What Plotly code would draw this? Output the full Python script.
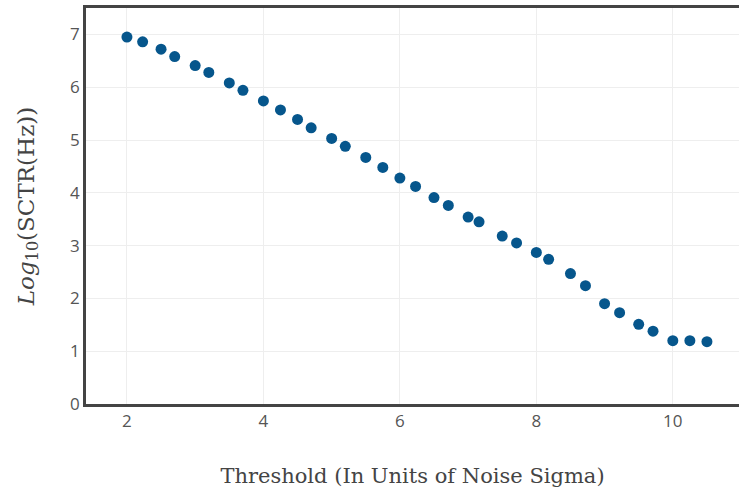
import plotly.graph_objects as go

threshold = [2.0, 2.23, 2.5, 2.7, 3.0, 3.2, 3.5, 3.7, 4.0, 4.25, 4.5, 4.7, 5.0, 5.2, 5.5,
             5.75, 6.0, 6.23, 6.5, 6.71, 7.0, 7.16, 7.5, 7.71, 8.0, 8.18, 8.5, 8.72,
             9.0, 9.22, 9.5, 9.71, 10.0, 10.25, 10.5]
log_sctr = [6.95, 6.86, 6.72, 6.58, 6.41, 6.28, 6.08, 5.94, 5.74, 5.57, 5.39, 5.23, 5.03, 4.88, 4.67,
            4.48, 4.28, 4.12, 3.91, 3.76, 3.54, 3.45, 3.18, 3.05, 2.87, 2.74, 2.47, 2.24,
            1.90, 1.73, 1.51, 1.38, 1.20, 1.20, 1.18]

x_title = "Threshold (In Units of Noise Sigma)"
y_title = "<i>Log</i><sub>10</sub>(SCTR(Hz))"

fig = go.Figure()
fig.add_trace(go.Scatter(
    x=threshold, y=log_sctr, mode="markers",
    marker=dict(color="#06568c", size=11),
    showlegend=False,
))

serif = "DejaVu Serif, Liberation Serif, serif"
fig.update_layout(
    width=739, height=494,
    margin=dict(l=86, r=0, t=8, b=90),
    paper_bgcolor="white", plot_bgcolor="white",
    font=dict(family="Open Sans, Arial, sans-serif", size=17, color="#444"),
    xaxis=dict(
        range=[1.40, 10.97], tickvals=[2, 4, 6, 8, 10],
        showgrid=True, gridcolor="#eeeeee", gridwidth=1,
        showline=True, linecolor="#444", linewidth=2.5, mirror=True,
        zeroline=False, ticks="",
        tickfont=dict(size=17, color="#555"),
        title=dict(text=x_title, font=dict(family=serif, size=21, color="#444"), standoff=38),
    ),
    yaxis=dict(
        range=[0, 7.5], tickvals=[0, 1, 2, 3, 4, 5, 6, 7],
        showgrid=True, gridcolor="#eeeeee", gridwidth=1,
        showline=True, linecolor="#444", linewidth=2.5, mirror=False,
        zeroline=False, ticks="",
        tickfont=dict(size=17, color="#555"),
        title=dict(text=y_title, font=dict(family=serif, size=23, color="#444"), standoff=30),
    ),
)

fig.write_html("out.html")
